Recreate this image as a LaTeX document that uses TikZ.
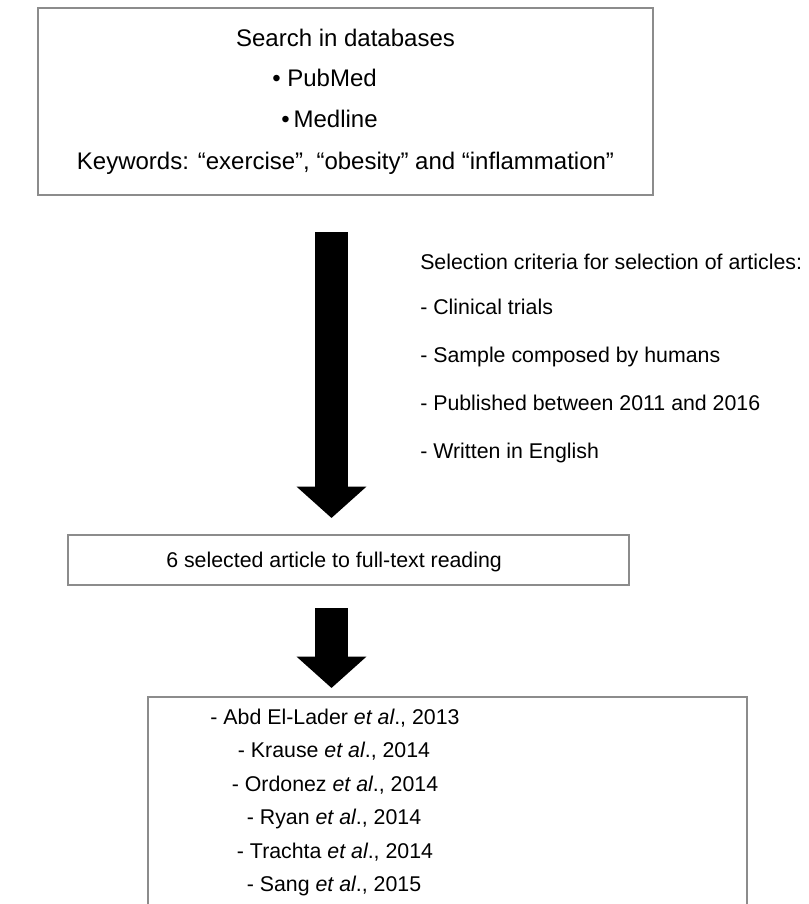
\documentclass[tikz,border=0pt]{standalone}
\usepackage{fontspec}
\setmainfont{Liberation Sans}
\usetikzlibrary{positioning}
\usetikzlibrary{arrows.meta}

\tikzset{
  box/.style={draw=black!45, line width=0.9pt, inner sep=0pt},
  txt/.style={inner sep=0pt, text height=11.5pt, text depth=3.3pt, font=\fontsize{16}{19}\selectfont},
  bigtxt/.style={inner sep=0pt, text height=12.9pt, text depth=3.7pt, font=\fontsize{18}{21}\selectfont},
  blockarrow/.style={line width=24.75pt, -{Triangle[width=51pt,length=23.5pt]}},
}

\begin{document}
\begin{tikzpicture}[x=0.75pt, y=-0.75pt]
            \useasboundingbox (0,0) rectangle (809,904);
            \clip (0,0) rectangle (809,904);
            % Boxes
            \node[box, minimum width=461.25pt, minimum height=140.25pt] (search) at (345.5,101.5) {};
            \node[box, minimum width=420.75pt, minimum height=37.5pt] (reading) at (348.5,560) {};
            \node[box, minimum width=449.25pt, minimum height=227.25pt] (included) at (447.5,848.5) {};

            % Search box
            \node[bigtxt] (db) at (345.5,40) {Search in databases};
            \node[bigtxt, anchor=west] (pubmed) at (272,80) {\textbullet\ PubMed};
            \node[bigtxt, anchor=west] (medline) at (281,121) {\textbullet\,Medline};
            \node[bigtxt] (keys) at (345.5,163) {Keywords: “exercise”, “obesity” and “inflammation”};

            % Selection criteria
            \node[txt, anchor=west] (crit) at (420,264) {Selection criteria for selection of articles:};
            \node[txt, anchor=west] (crit1) at (420,309) {- Clinical trials};
            \node[txt, anchor=west] (crit2) at (420,357) {- Sample composed by humans};
            \node[txt, anchor=west] (crit3) at (420,405) {- Published between 2011 and 2016};
            \node[txt, anchor=west] (crit4) at (420,453) {- Written in English};

            % Full-text reading
            \node[txt, anchor=west] (six) at (166,562) {6 selected article to full-text reading};

            % Included studies
            \node[txt] (s1) at (335,719) {- Abd El-Lader \textit{et al}., 2013};
            \node[txt] (s2) at (334,752) {- Krause \textit{et al}., 2014};
            \node[txt] (s3) at (335,786) {- Ordonez \textit{et al}., 2014};
            \node[txt] (s4) at (334,819) {- Ryan \textit{et al}., 2014};
            \node[txt] (s5) at (335,853) {- Trachta \textit{et al}., 2014};
            \node[txt] (s6) at (334,886) {- Sang \textit{et al}., 2015};

            % Arrows
            \coordinate (a1) at (331.5,232);
            \coordinate (b1) at (331.5,518);
            \coordinate (a2) at (331.5,608);
            \coordinate (b2) at (331.5,688);
            \draw[blockarrow] (a1) -- (b1);
            \draw[blockarrow] (a2) -- (b2);
        \end{tikzpicture}
\end{document}
